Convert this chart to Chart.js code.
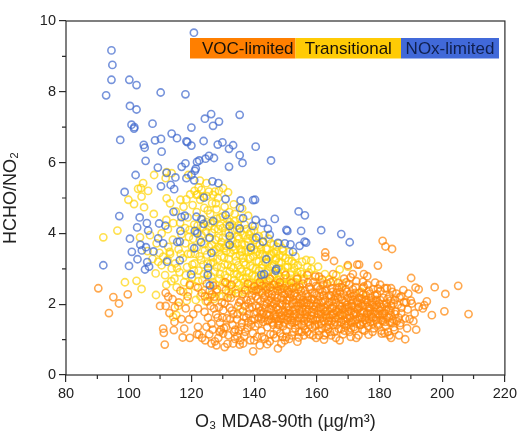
<!DOCTYPE html>
<html>
<head>
<meta charset="utf-8">
<script src="https://cdn.jsdelivr.net/npm/chart.js@4"></script>
<style>
  html, body { margin: 0; padding: 0; background: #fff; }
  #wrap { width: 520px; height: 434px; }
</style>
</head>
<body>
<div id="wrap"><canvas id="chart" width="520" height="434"></canvas></div>
<script>
// values: [O3 MDA8-90th, HCHO/NO2]
const noxLimited = [
  [120.8,9.67],[94.5,9.17],[94.8,8.76],[94.5,8.34],[92.8,7.9],[100.2,8.34],[102.5,8.19],[110.2,7.98],[118.1,7.93],[100.4,7.6],
  [102.5,7.5],[100.9,7.07],[101.7,6.96],[101.8,7],[107.6,7.1],[97.3,6.64],[104.8,6.5],[105.1,6.42],[108.4,6.63],[110.3,6.67],
  [110.5,6.31],[105.4,6.05],[113.7,6.82],[115.4,6.69],[118.4,6.6],[118.7,6.58],[120,6.48],[120,6.99],[124.3,7.24],[126.3,7.37],
  [128.8,7.16],[126.9,7.04],[135.4,7.35],[123.9,6.61],[128.4,6.51],[129.9,6.57],[132,6.39],[133.3,6.49],[140.5,6.45],[135.4,6.21],
  [136.3,5.99],[145.4,6.06],[127.2,6.13],[125.6,6.19],[124.5,6.11],[122.5,6.06],[121.8,6.02],[118.1,5.98],[116.9,5.88],[132,5.88],
  [109.3,5.86],[102.2,5.65],[121.4,5.83],[121.1,5.77],[120,5.65],[118.4,5.56],[120.9,5.5],[114.9,5.58],[112.1,5.71],[110.3,5.33],
  [113.4,5.37],[114.5,5.25],[98.7,5.17],[126.7,5.47],[128.6,5.42],[124,5.01],[130.9,4.97],[135.7,4.93],[139.7,4.94],[140.3,4.95],
  [97,4.49],[103.5,4.45],[102.7,4.17],[105.8,4.29],[109.7,4.28],[111.7,4.22],[106.2,4.08],[100.4,3.85],[103.7,3.68],[101,3.48],
  [104.2,3.52],[105.5,3.61],[107.9,3.49],[102.8,3.27],[105.9,3.19],[91.9,3.1],[100.1,3.08],[105.2,2.98],[106.5,3.06],[112.2,3.2],
  [116.3,3.24],[109.4,3.86],[111,3.72],[115.5,3.76],[114.3,4.61],[116.8,4.46],[117.9,4.5],[121.6,4.47],[123.2,4.4],[123.9,4.27],
  [126.9,4.35],[130.9,4.52],[135.5,4.72],[136.5,4.43],[116.5,4.07],[121.1,4.07],[121.9,4],[125.8,3.88],[123.1,3.75],[120.9,3.58],
  [116.3,3.77],[126.4,3.45],[132.2,4.21],[132.2,3.93],[135.4,4.14],[132.2,3.68],[139.5,4.21],[140.5,4.38],[142.8,4.3],[144.4,4.13],
  [145,3.96],[140.7,3.88],[142.8,3.77],[138.9,3.6],[147.6,3.73],[146.6,4.41],[150.3,4.1],[143.9,3.27],[146.9,2.95],[142.3,2.83],
  [125.3,3.03],[125.2,2.82],[119.9,2.84],[125.9,2.53],[154.2,4.62],[156.2,4.51],[150.6,4.07],[155,4.07],[161.4,4.09],[167.8,3.98],
  [170.5,3.75],[151.6,3.69],[154.5,3.65],[156.1,3.77],[156.6,3.74],[152.4,3.48],[149.8,3.72],[143.2,2.85],[147.1,3]
];

const transitional = [
  [108.1,5.65],[112.1,5.73],[113.7,5.7],[111.8,5.56],[104.6,5.42],[103,5.26],[103.9,5.28],[106.2,5.2],[104.1,5.04],[99.9,4.95],
  [112.1,4.99],[116.5,4.95],[118.4,4.96],[121.6,5.09],[123.2,5.23],[124.8,5.42],[126.9,5.09],[130.1,5.28],[131.7,5.16],[119,5.65],
  [122.7,5.49],[123.7,5.04],[127.5,5.18],[91.9,3.89],[96.4,4.08],[101.7,4.83],[104.9,4.74],[108,4.55],[103.6,3.89],[106.8,3.95],
  [108.9,3.72],[110.5,4],[112,4.38],[114.2,4.29],[112.6,3.62],[113.1,3.48],[98.8,2.62],[102.5,2.66],[104.1,2.43],[108.6,2.87],
  [110.5,3.1],[113.7,3.01],[111,3.34],[109.4,3.2],[114.2,1.64],[115.2,1.69],[108.7,2.26],[113.2,4.85],[115,4.62],[116.4,4.3],
  [117.5,4.75],[118.8,4.45],[119.6,5.1],[120.4,4.8],[120.9,4.25],[121.7,4.6],[122.3,5.3],[122.8,4.95],[123.5,4.4],[124.1,4.72],
  [124.9,5.05],[125.4,4.2],[126,4.55],[126.6,4.85],[127.3,4.32],[128,4.68],[128.5,5],[129.2,4.45],[130,4.15],[130.6,4.75],
  [131.4,4.4],[132.1,4.6],[133,4.25],[133.8,4.55],[134.6,4.1],[135.5,4.42],[136.2,4.7],[137,4.25],[138.1,4.5],[139,4.05],
  [140.2,4.2],[111.6,2.82],[112.4,3.25],[113.6,2.65],[114.1,3.82],[114.8,3.15],[115.3,2.48],[115.9,3.55],[116.2,2.9],[116.8,3.98],
  [117.3,3.3],[117.7,2.62],[118.1,3.72],[118.6,3.05],[119,2.35],[119.4,4.1],[119.8,3.42],[120.2,2.75],[120.6,3.85],[121,3.15],
  [121.3,2.5],[121.7,3.6],[122,4.22],[122.3,2.95],[122.6,3.35],[122.9,2.22],[123.2,3.95],[123.5,2.68],[123.8,3.12],[124.1,3.7],
  [124.4,2.4],[124.7,4.05],[125,3.4],[125.3,2.88],[125.6,3.62],[125.9,2.2],[126.2,3.15],[126.5,4.02],[126.8,2.62],[127.1,3.5],
  [127.4,2.92],[127.7,3.82],[128,2.35],[128.3,3.28],[128.6,4.12],[128.9,2.72],[129.2,3.6],[129.5,3.05],[129.8,2.48],[130.1,3.88],
  [130.4,3.32],[130.7,2.82],[131,3.65],[131.3,2.58],[131.6,3.12],[131.9,4.02],[132.2,2.92],[132.5,3.45],[132.8,2.42],[133.1,3.78],
  [133.4,3.02],[133.7,2.68],[134,3.55],[134.3,3.22],[134.6,2.85],[134.9,3.92],[135.2,2.55],[135.5,3.38],[135.8,3],[136.1,3.7],
  [136.4,2.72],[136.7,3.18],[137,2.48],[137.3,3.52],[137.6,2.92],[137.9,3.85],[138.2,3.28],[138.5,2.62],[138.8,3.08],[139.1,3.62],
  [139.4,2.8],[139.7,3.35],[140,2.52],[140.3,3.82],[140.6,3],[140.9,3.48],[141.2,2.72],[141.5,3.2],[141.8,3.68],[142.1,2.58],
  [142.4,3.02],[142.7,3.42],[143,2.82],[143.3,3.95],[143.6,3.18],[143.9,2.62],[144.2,3.55],[144.5,2.95],[144.8,3.32],[145.1,2.72],
  [145.4,3.72],[145.7,3.08],[146,2.55],[146.3,3.45],[146.6,2.85],[146.9,3.25],[147.2,3.62],[147.5,2.68],[147.8,3.02],[148.1,3.38],
  [148.4,2.78],[148.7,3.18],[149,2.6],[149.3,3.5],[149.6,2.92],[150,3.3],[150.4,2.72],[150.8,3.05],[151.2,3.48],[151.6,2.82],
  [152,3.22],[152.4,2.62],[152.8,3.02],[153.2,3.35],[153.6,2.78],[154,3.1],[154.4,2.55],[154.8,2.92],[155.3,3.2],[155.7,2.7],
  [156.6,3.25],[158.2,3.23],[157.4,2.9],[158.3,3],[160.4,3.06],[159.6,2.82],[167.3,2.98],[169.9,3.06],[166.2,2.82],[164,2.7],
  [112.5,4.12],[118,4.15],[125.2,4.65],[122,5.1],[128.8,5.2],[133.5,4.82],[119.2,3.9],[109.8,3.45],[107.6,3.28],[106,3.5],
  [121.4,2.12],[124.6,2.08],[127.2,2.15],[130,2.22],[132.6,2.28],[135,2.32],[138,2.38],[141,2.42],[144.2,2.45],[147.2,2.5],
  [150,2.52],[152.6,2.48],[115.8,1.95],[118.5,2.1],[135.6,1.86],[174.2,2.35],[163,1.72],[167.4,1.72]
];

// second pass over the solid yellow part of the cloud
const transitionalCore = [
  [126.3,2.78],[126.9,3.32],[127.6,2.55],[128.1,3.05],[128.7,3.62],[129.1,2.85],[129.6,3.35],[130.2,2.62],[130.6,3.12],[131.1,3.5],
  [131.5,2.75],[131.9,3.28],[132.3,2.52],[132.7,3.05],[133.2,3.62],[133.6,2.85],[134.1,3.35],[134.5,2.6],[134.9,3.1],[135.3,2.78],
  [135.7,3.55],[136.1,2.92],[136.5,3.3],[136.9,2.62],[137.3,3.12],[137.7,2.75],[138.1,3.48],[138.4,2.88],[138.8,3.32],[139.2,2.55],
  [139.6,3.02],[140,3.55],[140.4,2.78],[140.8,3.22],[141.1,2.6],[141.5,2.95],[141.9,3.42],[142.3,2.72],[142.7,3.12],[143.1,2.55],
  [143.5,3.35],[143.9,2.9],[144.3,3.18],[144.7,2.65],[145.1,3.05],[145.5,3.42],[145.9,2.78],[146.3,3.12],[146.7,2.6],[147.1,3.3],
  [147.5,2.88],[147.9,3.18],[148.3,2.55],[148.7,2.98],[149.1,3.35],[149.5,2.72],[150,3.05],[150.5,2.58],[151,3.22],[151.5,2.68],
  [152,2.92],[152.6,3.15],[153.2,2.62],[153.8,2.9],[120.2,3.62],[120.8,2.95],[121.2,3.42],[121.8,4.05],[122.2,2.65],[122.7,3.82],
  [123.1,3.25],[123.6,4.18],[124,2.85],[124.3,3.52],[124.8,4.32],[125.2,3.15],[125.7,3.85],[126.1,4.28],[126.5,3.68],[127,3.18],
  [127.4,4.12],[127.8,3.55],[128.2,4.42],[128.7,3.88],[129.1,4.22],[129.6,3.75],[130,4.48],[130.4,3.58],[130.9,4.02],[131.3,4.25],
  [131.8,3.72],[132.2,4.32],[132.7,3.82],[133.1,4.08],[133.5,3.52],[133.9,4.35],[134.4,3.72],[134.8,4.22],[135.2,3.85],[135.7,4.05],
  [136.1,3.48],[136.6,3.95],[137,3.68],[137.5,4.12],[138,3.75],[138.4,3.98],[139,3.52],[139.5,3.88],[140,4.08],[140.8,3.72],
  [141.5,3.92],[142.2,3.55],[143,3.75],[143.8,3.58],[144.6,3.85],[145.4,3.38],[146.2,3.68],[147,3.48],[148,3.72],[149,3.58],
  [117.4,2.35],[118.2,2.82],[118.9,3.42],[119.6,2.58],[120.3,3.12],[116.6,3.42],[115.4,3.02],[114.6,2.72],[113.2,3.42],[112,2.55],
  [129,2.22],[131.8,2.32],[134.2,2.42],[136.8,2.35],[139.2,2.45],[142.2,2.38],[145.2,2.48],[148.4,2.42],[151.2,2.5],[154,2.42],
  [156,2.72],[157,3.05],[155.2,2.85],[161.4,2.62],[162.6,2.85],[165.2,2.65],[168.2,2.58],[127.8,4.85],[125.6,5.18],[121,5.2]
];

const vocLimited = [
  [90.3,2.45],[95.1,2.2],[99.7,2.28],[96.9,2.02],[93.7,1.75],[111.8,2.32],[112.6,2.21],[114,2.14],[110,1.95],[111.8,1.95],
  [114.7,1.91],[116.5,2.38],[119.5,2.54],[122.1,2.47],[118.2,1.88],[122.1,1.88],[116.8,1.58],[119.3,1.57],[111,1.31],[111.2,1.19],
  [114.4,1.27],[117.7,1.31],[117.2,1.06],[119.5,1.05],[111.5,0.86],[122.1,1.36],[124.8,1.36],[122.4,1.14],[126.4,0.89],[128,0.84],
  [130.6,0.79],[129,1.22],[130.1,1.17],[133.3,0.89],[135.4,0.86],[136.5,0.89],[139.7,0.67],[141.8,0.84],[144.2,0.87],[147.6,0.75],
  [148.7,0.89],[181,3.79],[181.9,3.63],[184,3.56],[162.7,3.46],[162.7,3.34],[165.5,3.22],[169.9,3.1],[172.9,3.12],[173.5,3.12],
  [179.5,3.09],[190.1,2.74],[175,2.85],[176.1,2.79],[171.5,2.85],[170.8,2.76],[159.5,2.78],[160.7,2.78],[174.7,2.63],[178.6,2.61],
  [174.7,2.46],[179.5,2.44],[182.4,2.45],[183.7,2.45],[191.5,2.47],[192.5,2.42],[197.6,2.48],[201,2.29],[205.1,2.52],[189.2,2.3],
  [186.9,2.23],[186.4,2.19],[188.5,2.05],[190.3,2.02],[195.1,2.08],[194.3,1.97],[192.5,1.93],[193.8,1.88],[196.7,1.69],[200.7,1.8],
  [208.4,1.72],[191.2,1.74],[189.6,1.58],[186.9,1.74],[186.7,1.47],[191.7,1.28],[188.2,1.01],[184.8,1.27],[183.7,1.05],[183.2,1.12],
  [180.7,1.17],[176.5,1.14],[172.6,1.05],[170.8,1.08],[167.3,0.98],[162.3,1],[164.6,1.12],[153.8,0.94],[154.2,1.06],[155.9,1.12],
  [150.3,1.08],[149.8,0.98],[125.3,1.62],[126.1,1.95],[126.8,1.28],[127.4,2.21],[127.9,1.71],[128.6,1.05],[129.1,1.48],[129.7,2.05],
  [130.2,1.83],[130.4,1.32],[131,2.4],[131.3,1.6],[131.8,1.12],[132.2,1.9],[132.6,2.18],[133.1,1.42],[133.4,1.72],[133.9,1.02],
  [134.2,2.31],[134.5,1.57],[134.9,1.95],[135.1,1.25],[135.8,2.1],[136.1,1.47],[136.4,1.8],[136.9,1.1],[137.2,2.4],[137.5,1.62],
  [137.8,1.33],[138.2,2.02],[138.5,1.88],[138.8,0.98],[139.1,1.55],[139.3,2.25],[139.6,1.18],[139.9,1.72],[140.1,2.5],[140.4,1.38],
  [140.7,1.95],[141,1.08],[141.2,2.15],[141.5,1.62],[141.8,2.62],[142.1,1.82],[142.3,1.25],[142.6,2.32],[142.9,1.5],[143.2,1.98],
  [143.4,1.02],[143.7,2.5],[144,1.72],[144.2,1.35],[144.5,2.12],[144.8,1.88],[145,2.72],[145.2,1.15],[145.4,1.58],[145.7,2.28],
  [145.9,1.95],[146.1,1.42],[146.4,2.55],[146.6,1.72],[146.8,1.05],[147,2.08],[147.3,1.28],[147.5,2.38],[147.7,1.85],[147.9,1.52],
  [148.2,2.62],[148.4,1.18],[148.6,2.18],[148.8,1.68],[149,1.98],[149.3,1.38],[149.5,2.45],[149.7,1.78],[150,2.82],[150.2,1.25],
  [150.4,2.12],[150.6,1.55],[150.9,1.92],[151.1,2.35],[151.3,1.42],[151.5,1.72],[151.8,2.6],[152,1.12],[152.2,2.02],[152.4,1.62],
  [152.7,2.25],[152.9,1.85],[153.1,1.32],[153.4,2.48],[153.6,1.52],[153.8,2.72],[154,1.95],[154.3,1.22],[154.5,2.15],[154.7,1.72],
  [154.9,2.38],[155.2,1.42],[155.4,1.88],[155.6,2.58],[155.9,1.62],[156.1,2.05],[156.3,1.28],[156.6,2.28],[156.8,1.78],[157,2.82],
  [157.3,1.5],[157.5,1.98],[157.7,1.15],[157.9,2.42],[158.2,1.68],[158.4,2.15],[158.6,1.35],[158.9,2.62],[159.1,1.85],[159.3,2.3],
  [159.6,1.55],[159.8,1.05],[160,2.02],[160.3,2.5],[160.5,1.72],[160.7,1.25],[161,2.22],[161.2,1.92],[161.4,1.45],[161.7,2.7],
  [161.9,1.62],[162.1,2.08],[162.4,1.12],[162.6,2.38],[162.8,1.8],[163.1,1.35],[163.3,2.58],[163.5,1.98],[163.8,1.52],[164,2.25],
  [164.2,1.22],[164.5,1.7],[164.7,2.45],[164.9,1.88],[165.2,2.85],[165.4,1.42],[165.6,2.12],[165.9,1.62],[166.1,1.05],[166.3,2.32],
  [166.6,1.78],[166.8,2.6],[167,1.3],[167.3,1.95],[167.5,2.2],[167.7,1.5],[168,2.48],[168.2,1.68],[168.4,1.15],[168.7,2.72],
  [168.9,1.88],[169.1,2.05],[169.4,1.38],[169.6,2.35],[169.8,1.6],[170.1,1.8],[170.3,2.55],[170.5,1.22],[170.8,2.12],[171,1.48],
  [171.2,1.95],[171.5,2.42],[171.7,1.7],[171.9,2.25],[172.2,1.3],[172.4,1.55],[172.6,2.65],[172.9,1.85],[173.1,2.02],[173.3,1.12],
  [173.6,2.32],[173.8,1.62],[174,1.42],[174.3,2.15],[174.5,1.78],[174.7,1.95],[175,2.5],[175.2,1.25],[175.4,1.55],[175.7,2.25],
  [175.9,1.72],[176.1,2.05],[176.4,1.38],[176.6,2.38],[176.8,1.88],[177.1,1.5],[177.3,2.18],[177.5,1.65],[177.8,1.98],[178,2.42],
  [178.2,1.32],[178.5,1.78],[178.7,2.1],[178.9,1.55],[179.2,2.28],[179.4,1.88],[179.6,1.4],[179.9,2.02],[180.1,1.68],[180.3,2.38],
  [180.6,1.25],[180.8,1.92],[181,1.52],[181.3,2.18],[181.5,1.75],[181.7,2.45],[182,1.38],[182.2,2.02],[182.4,1.62],[182.7,1.22],
  [182.9,1.85],[183.1,2.22],[183.4,1.48],[183.6,1.7],[183.8,1.95],[184.1,2.35],[184.3,1.58],[184.6,1.35],[184.9,2.12],[185.2,1.8],
  [185.5,1.52],[185.8,1.98],[186.1,1.62],[186.5,1.4],[187,1.9],[187.6,2.4],[188.2,1.6],[189,1.85],[190,2.1],[123.3,2.32],
  [124.2,1.78],[124.9,2.58],[125.8,2.38],[126.4,1.45],[127,2.52],[128.2,2.42],[128.8,1.92],[129.4,1.28],[130.8,2.62],[132.8,2.55],
  [134,1.28],[135.6,0.98],[137,1.95],[138,2.58],[139,1.42],[140.6,2.38],[141.4,1.45],[142.4,1.72],[143.6,2.25],[144.6,1.55],
  [145.6,2.05],[146.2,1.82],[147.1,1.65],[148,1.42],[148.9,2.32],[149.4,1.6],[150.1,2.02],[150.7,1.75],[151.4,2.18],[152.1,1.48],
  [152.8,1.72],[153.5,2.05],[154.2,1.62],[155,2.02],[155.8,1.38],[156.5,1.85],[157.2,2.12],[158,1.58],[158.8,1.95],[159.5,1.42],
  [160.2,1.82],[161,1.58],[161.8,2.35],[162.5,1.92],[163.2,1.62],[164,1.42],[164.8,2.08],[165.5,1.75],[166.4,2.45],[167.2,1.68],
  [168,1.95],[168.8,1.42],[169.6,1.92],[170.4,1.68],[171.2,2.22],[172,1.78],[172.8,1.45],[173.6,1.92],[174.4,1.62],[175.2,2.12],
  [176,1.48],[177,1.82],[178,1.62],[179,2.12],[180,1.82],[181.2,1.62],[182.4,1.92],[183.6,2.1],[113,1.75],[114.6,1.5],
  [116,2.05],[118.8,2.22],[120.6,1.72],[121.8,1.15],[123.4,1.05],[124.4,0.98],[125.7,1.15],[127.5,0.95],[131.5,0.88],[134.6,1.1]
];

// second pass over the nearly solid orange core
const vocCore = [
  [138.3,1.72],[138.9,2.12],[139.4,1.92],[139.8,2.38],[140.2,1.58],[140.5,2.22],[140.9,1.78],[141.3,2.42],[141.6,1.92],[142,2.08],
  [142.2,1.58],[142.5,2.52],[142.8,1.75],[143.1,2.18],[143.3,1.62],[143.5,1.88],[143.8,2.4],[144.1,2.02],[144.3,1.52],[144.6,2.3],
  [144.9,1.68],[145.1,2.48],[145.3,1.85],[145.5,2.18],[145.8,1.48],[146,2.38],[146.3,1.68],[146.5,2.02],[146.7,2.25],[146.9,1.58],
  [147.2,1.92],[147.4,2.18],[147.6,1.42],[147.8,2.5],[148.1,1.75],[148.3,2.02],[148.5,1.58],[148.7,2.42],[149.1,1.82],[149.2,2.12],
  [149.6,1.48],[149.8,2.28],[150,1.68],[150.3,1.92],[150.5,2.4],[150.8,1.62],[151,2.12],[151.2,1.82],[151.6,2.28],[151.9,1.55],
  [152.1,2.45],[152.3,1.82],[152.5,2.12],[152.8,1.48],[153,2.32],[153.3,1.72],[153.5,1.95],[153.7,2.22],[154.1,1.42],[154.4,1.85],
  [154.6,2.48],[154.8,2.02],[155.1,1.62],[155.3,2.25],[155.5,1.78],[155.7,2.12],[156,1.52],[156.2,2.38],[156.4,1.72],[156.7,2.02],
  [156.9,1.62],[157.1,2.22],[157.4,1.85],[157.6,2.48],[157.8,1.42],[158.1,2.02],[158.3,1.78],[158.5,2.32],[158.7,1.58],[159,2.12],
  [159.2,1.72],[159.4,1.38],[159.7,1.95],[159.9,2.25],[160.1,1.62],[160.4,2.12],[160.6,1.42],[160.8,1.88],[161.1,2.42],[161.3,1.72],
  [161.5,2.05],[161.6,1.32],[162,1.85],[162.2,2.25],[162.3,1.52],[162.7,2.12],[162.9,1.68],[163,2.42],[163.4,1.82],[163.6,1.3],
  [163.9,2.05],[164.1,1.62],[164.3,1.88],[164.6,2.22],[164.8,1.52],[165,1.72],[165.1,2.35],[165.3,1.95],[165.7,1.5],[165.8,2.22],
  [166,1.82],[166.2,2.05],[166.5,1.42],[166.7,2.18],[166.9,1.6],[167.1,1.85],[167.4,2.35],[167.6,1.72],[167.8,1.3],[168.1,2.12],
  [168.3,1.85],[168.5,1.55],[168.6,2.28],[169,1.72],[169.2,2.42],[169.3,1.52],[169.5,1.98],[169.9,2.18],[170,1.45],[170.2,1.92],
  [170.6,1.62],[170.7,2.3],[170.9,1.8],[171.1,2.02],[171.4,1.55],[171.6,2.12],[171.8,1.35],[172.1,1.92],[172.3,2.32],[172.5,1.72],
  [172.7,2.08],[173,1.58],[173.2,1.88],[173.5,2.18],[173.7,1.42],[173.9,1.75],[174.2,2.02],[174.6,1.5],[174.8,2.28],[175.1,1.78],
  [175.3,1.98],[175.6,1.62],[175.8,2.12],[176.2,1.75],[176.5,1.92],[176.7,1.58],[177,2.3],[177.2,1.72],[177.6,2.05],[177.9,1.45],
  [178.3,1.92],[178.6,2.25],[178.8,1.72],[179.1,1.98],[179.3,1.45],[179.7,1.72],[180.2,2.12],[180.5,1.55],[180.9,1.72],[181.4,2],
  [181.8,1.5],[182.1,1.85],[182.6,2.15],[183,1.62],[183.5,1.82],[184,1.48],[184.5,2.02],[185,1.72],[132.9,1.82],[133.6,1.22],
  [134.7,1.72],[135.3,2.05],[135.9,1.35],[136.3,2.28],[136.7,1.65],[137.1,1.22],[137.6,2.12],[138,1.48],[128.4,1.62],[129.9,1.62],
  [131.1,1.35],[132.4,1.58],[130.6,2.02],[131.6,2.18],[127.2,1.88],[125.2,2.08],[126.6,2.28],[124.3,2.22],[140,0.98],[142.6,1.08],
  [145,0.95],[146.2,1.15],[149.1,1.08],[151.2,1.02],[152.6,1.22],[155.2,1.22],[157,1.22],[158.8,1.12],[160.6,1.12],[163,1.18],
  [165.6,1.22],[168.8,1.25],[170.9,1.32],[174.6,1.28],[177.8,1.22],[181.6,1.18],[157.2,2.62],[159.8,2.52],[162,2.55],[164.4,2.62],
  [167.2,2.48],[169.4,2.62],[172.4,2.48],[176.2,2.55],[180.2,2.55],[185.4,2.3],[187.8,2.05],[188.8,1.32],[190.8,1.52],[186.2,1.12]
];

const xRange = [80, 220];
const yRange = [0, 10];
const legendNames = ['VOC-limited', 'Transitional', 'NOx-limited'];
const legendFills = ['#ff7f00', '#ffcb05', '#4169d9'];

const toPoints = rows => rows.map(r => ({ x: r[0], y: r[1] }));

// frame, minor ticks and the colour band on top of the points
const framePlugin = {
  id: 'frame',
  afterDatasetsDraw(chart) {
    const { ctx, chartArea: a, scales } = chart;
    ctx.save();
    ctx.strokeStyle = '#2b2b2b';
    ctx.lineWidth = 1.2;
    ctx.strokeRect(a.left, a.top, a.width, a.height);
    ctx.beginPath();
    for (let v = xRange[0] + 10; v < xRange[1]; v += 20) {
      const px = scales.x.getPixelForValue(v);
      ctx.moveTo(px, a.bottom);
      ctx.lineTo(px, a.bottom + 4);
    }
    for (let v = yRange[0] + 1; v < yRange[1]; v += 2) {
      const py = scales.y.getPixelForValue(v);
      ctx.moveTo(a.left, py);
      ctx.lineTo(a.left - 4, py);
    }
    ctx.stroke();

    const edges = [190, 295.5, 401, 499];
    ctx.font = '17px "Liberation Sans"';
    ctx.textAlign = 'center';
    ctx.textBaseline = 'middle';
    legendNames.forEach((name, i) => {
      ctx.fillStyle = legendFills[i];
      ctx.fillRect(edges[i], 38, edges[i + 1] - edges[i], 20.5);
      ctx.fillStyle = i === 2 ? '#10204f' : '#1a1208';
      ctx.fillText(name, (edges[i] + edges[i + 1]) / 2 + (i === 0 ? 5 : 0), 49);
    });
    ctx.restore();
  }
};

const series = (label, rows, color, order) => ({
  label,
  data: toPoints(rows),
  order,
  showLine: false,
  pointStyle: 'circle',
  pointRadius: 3.6,
  pointBorderWidth: 1.6,
  pointBackgroundColor: 'rgba(255,255,255,0)',
  pointBorderColor: color
});

const axisFont = { family: '"Liberation Sans"', size: 14.5 };

new Chart(document.getElementById('chart'), {
  type: 'scatter',
  data: {
    datasets: [
      series('NOx-limited', noxLimited, 'rgba(65,105,205,0.72)', 1),
      series('VOC-limited', vocLimited.concat(vocCore), 'rgba(255,135,10,0.72)', 2),
      series('Transitional', transitional.concat(transitionalCore), 'rgba(255,212,10,0.72)', 3)
    ]
  },
  options: {
    responsive: false,
    animation: false,
    layout: { padding: { top: 21, right: 14, left: 0, bottom: 0 } },
    plugins: { legend: { display: false }, tooltip: { enabled: false } },
    scales: {
      x: {
        type: 'linear',
        min: xRange[0],
        max: xRange[1],
        afterFit: s => { s.height = 59; },
        ticks: { stepSize: 20, color: '#222', font: axisFont, padding: 3, maxRotation: 0 },
        grid: { drawOnChartArea: false, color: '#2b2b2b', lineWidth: 1.2, tickLength: 7 },
        border: { display: false },
        title: { display: true, text: 'O₃ MDA8-90th (µg/m³)', color: '#222', font: { family: '"Liberation Sans"', size: 18 }, padding: { top: 8, bottom: 1 } }
      },
      y: {
        type: 'linear',
        min: yRange[0],
        max: yRange[1],
        afterFit: s => { s.width = 66; },
        ticks: { stepSize: 2, color: '#222', font: axisFont, padding: 3 },
        grid: { drawOnChartArea: false, color: '#2b2b2b', lineWidth: 1.2, tickLength: 7 },
        border: { display: false },
        title: { display: true, text: 'HCHO/NO₂', color: '#222', font: { family: '"Liberation Sans"', size: 18 }, padding: { top: 0, bottom: 6 } }
      }
    }
  },
  plugins: [framePlugin]
});
</script>
</body>
</html>
